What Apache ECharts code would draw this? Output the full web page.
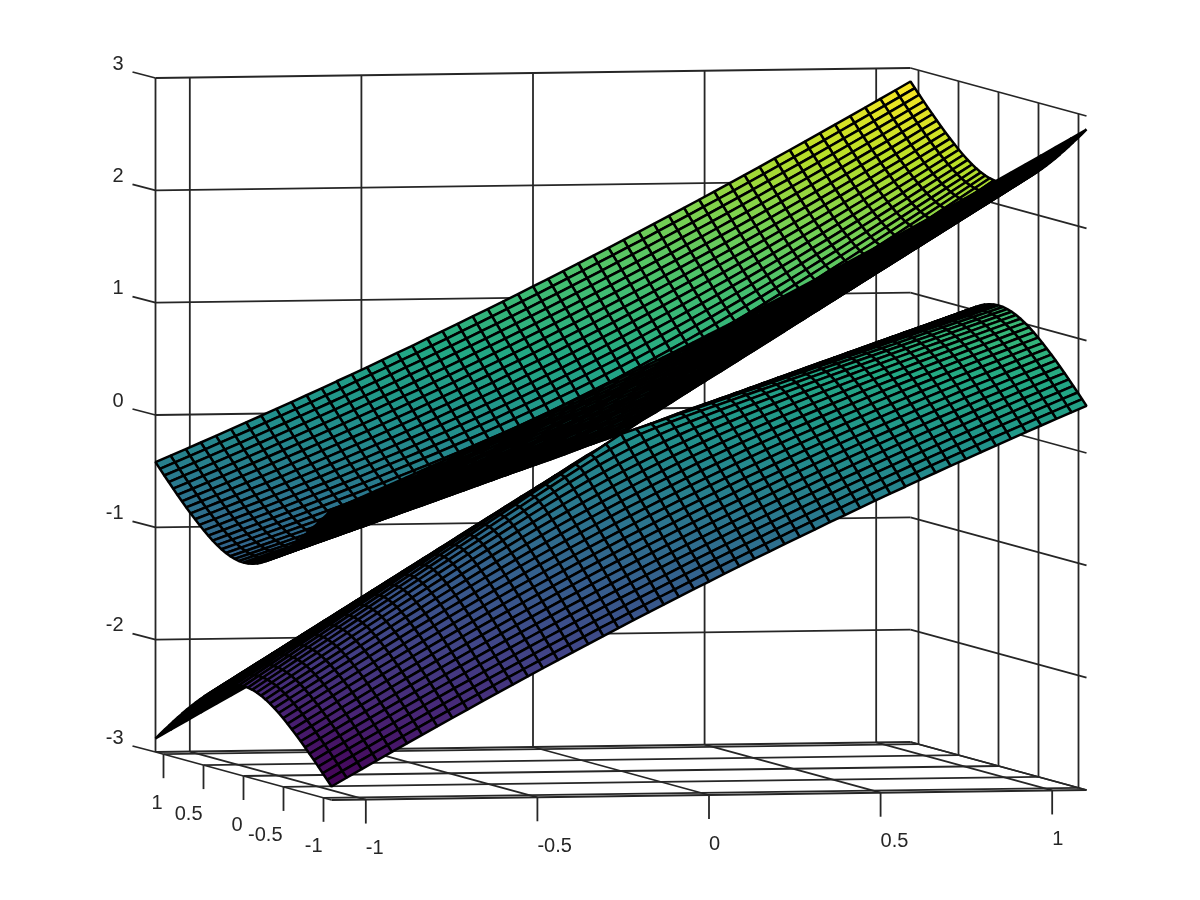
<!DOCTYPE html>
<html lang="en">
<head>
  <meta charset="UTF-8">
  <title>Surface</title>
  <script src="https://cdn.jsdelivr.net/npm/echarts@6/dist/echarts.min.js"></script>
  <style>
    html, body { margin: 0; background: #fff; }
    #main { width: 1200px; height: 900px; }
  </style>
</head>
<body>
<div id="main"></div>
<script>
  // tick labels
  var xTicks = [-1, -0.5, 0, 0.5, 1];
  var yTicks = [1, 0.5, 0, -0.5, -1];
  var zTicks = [-3, -2, -1, 0, 1, 2, 3];

  // mesh samples along x
  var xValues = [-1.1, -1.056, -1.012, -0.968, -0.924, -0.88, -0.836, -0.792, -0.748, -0.704, -0.66, -0.616, -0.572,
    -0.528, -0.484, -0.44, -0.396, -0.352, -0.308, -0.264, -0.22, -0.176, -0.132, -0.088, -0.044, 0,
    0.044, 0.088, 0.132, 0.176, 0.22, 0.264, 0.308, 0.352, 0.396, 0.44, 0.484, 0.528, 0.572, 0.616, 0.66,
    0.704, 0.748, 0.792, 0.836, 0.88, 0.924, 0.968, 1.012, 1.056, 1.1];
  // height of the middle between the two sheets, read along x
  var midHeight = [-1.65, -1.584, -1.518, -1.452, -1.386, -1.32, -1.254, -1.188, -1.122, -1.056, -0.99, -0.924, -0.858,
    -0.792, -0.726, -0.66, -0.594, -0.528, -0.462, -0.396, -0.33, -0.264, -0.198, -0.132, -0.066, 0,
    0.066, 0.132, 0.198, 0.264, 0.33, 0.396, 0.462, 0.528, 0.594, 0.66, 0.726, 0.792, 0.858, 0.924, 0.99,
    1.056, 1.122, 1.188, 1.254, 1.32, 1.386, 1.452, 1.518, 1.584, 1.65];

  // mesh samples along y
  var yValues = [-1.1, -1.045, -0.99, -0.935, -0.88, -0.825, -0.77, -0.715, -0.66, -0.605, -0.55, -0.495, -0.44, -0.385,
    -0.33, -0.275, -0.22, -0.165, -0.11, -0.055, 0, 0.055, 0.11, 0.165, 0.22, 0.275, 0.33, 0.385, 0.44, 0.495,
    0.55, 0.605, 0.66, 0.715, 0.77, 0.825, 0.88, 0.935, 0.99, 1.045, 1.1];

  // half gap between the sheets: one row per |y| step, one column per |x| step (the picture is mirror symmetric)
  var gapY0 = [0, 0.022, 0.044, 0.066, 0.088, 0.11, 0.132, 0.154, 0.176, 0.198, 0.22, 0.242, 0.264, 0.286, 0.308, 0.33, 0.352, 0.374, 0.396, 0.418, 0.44, 0.462, 0.484, 0.506, 0.528, 0.55];
  var gapY1 = [0.055, 0.059, 0.07, 0.086, 0.104, 0.123, 0.143, 0.164, 0.184, 0.205, 0.227, 0.248, 0.27, 0.291, 0.313, 0.335, 0.356, 0.378, 0.4, 0.422, 0.443, 0.465, 0.487, 0.509, 0.531, 0.553];
  var gapY2 = [0.11, 0.112, 0.118, 0.128, 0.141, 0.156, 0.172, 0.189, 0.208, 0.227, 0.246, 0.266, 0.286, 0.306, 0.327, 0.348, 0.369, 0.39, 0.411, 0.432, 0.454, 0.475, 0.496, 0.518, 0.539, 0.561];
  var gapY3 = [0.165, 0.166, 0.171, 0.178, 0.187, 0.198, 0.211, 0.226, 0.241, 0.258, 0.275, 0.293, 0.311, 0.33, 0.349, 0.369, 0.389, 0.409, 0.429, 0.449, 0.47, 0.491, 0.511, 0.532, 0.553, 0.574];
  var gapY4 = [0.22, 0.221, 0.224, 0.23, 0.237, 0.246, 0.257, 0.269, 0.282, 0.296, 0.311, 0.327, 0.344, 0.361, 0.379, 0.397, 0.415, 0.434, 0.453, 0.472, 0.492, 0.512, 0.532, 0.552, 0.572, 0.592];
  var gapY5 = [0.275, 0.276, 0.278, 0.283, 0.289, 0.296, 0.305, 0.315, 0.326, 0.339, 0.352, 0.366, 0.381, 0.397, 0.413, 0.43, 0.447, 0.464, 0.482, 0.5, 0.519, 0.538, 0.557, 0.576, 0.595, 0.615];
  var gapY6 = [0.33, 0.331, 0.333, 0.337, 0.342, 0.348, 0.355, 0.364, 0.374, 0.385, 0.397, 0.409, 0.423, 0.437, 0.451, 0.467, 0.482, 0.499, 0.515, 0.533, 0.55, 0.568, 0.586, 0.604, 0.623, 0.641];
  var gapY7 = [0.385, 0.386, 0.388, 0.391, 0.395, 0.4, 0.407, 0.415, 0.423, 0.433, 0.443, 0.455, 0.467, 0.48, 0.493, 0.507, 0.522, 0.537, 0.552, 0.568, 0.585, 0.601, 0.618, 0.636, 0.653, 0.671];
  var gapY8 = [0.44, 0.441, 0.442, 0.445, 0.449, 0.454, 0.459, 0.466, 0.474, 0.482, 0.492, 0.502, 0.513, 0.525, 0.537, 0.55, 0.563, 0.577, 0.592, 0.607, 0.622, 0.638, 0.654, 0.671, 0.687, 0.704];
  var gapY9 = [0.495, 0.495, 0.497, 0.499, 0.503, 0.507, 0.512, 0.518, 0.525, 0.533, 0.542, 0.551, 0.561, 0.572, 0.583, 0.595, 0.607, 0.62, 0.634, 0.648, 0.662, 0.677, 0.692, 0.708, 0.724, 0.74];
  var gapY10 = [0.55, 0.55, 0.552, 0.554, 0.557, 0.561, 0.566, 0.571, 0.577, 0.585, 0.592, 0.601, 0.61, 0.62, 0.63, 0.641, 0.653, 0.665, 0.678, 0.691, 0.704, 0.718, 0.733, 0.747, 0.762, 0.778];
  var gapY11 = [0.605, 0.605, 0.607, 0.609, 0.611, 0.615, 0.619, 0.624, 0.63, 0.637, 0.644, 0.652, 0.66, 0.669, 0.679, 0.689, 0.7, 0.711, 0.723, 0.735, 0.748, 0.761, 0.775, 0.789, 0.803, 0.818];
  var gapY12 = [0.66, 0.66, 0.661, 0.663, 0.666, 0.669, 0.673, 0.678, 0.683, 0.689, 0.696, 0.703, 0.711, 0.719, 0.728, 0.738, 0.748, 0.759, 0.77, 0.781, 0.793, 0.806, 0.818, 0.832, 0.845, 0.859];
  var gapY13 = [0.715, 0.715, 0.716, 0.718, 0.72, 0.723, 0.727, 0.731, 0.736, 0.742, 0.748, 0.755, 0.762, 0.77, 0.779, 0.787, 0.797, 0.807, 0.817, 0.828, 0.84, 0.851, 0.863, 0.876, 0.889, 0.902];
  var gapY14 = [0.77, 0.77, 0.771, 0.773, 0.775, 0.778, 0.781, 0.785, 0.79, 0.795, 0.801, 0.807, 0.814, 0.821, 0.829, 0.838, 0.847, 0.856, 0.866, 0.876, 0.887, 0.898, 0.909, 0.921, 0.934, 0.946];
  var gapY15 = [0.825, 0.825, 0.826, 0.828, 0.83, 0.832, 0.835, 0.839, 0.844, 0.848, 0.854, 0.86, 0.866, 0.873, 0.881, 0.889, 0.897, 0.906, 0.915, 0.925, 0.935, 0.946, 0.956, 0.968, 0.979, 0.992];
  var gapY16 = [0.88, 0.88, 0.881, 0.882, 0.884, 0.887, 0.89, 0.893, 0.897, 0.902, 0.907, 0.913, 0.919, 0.925, 0.932, 0.94, 0.948, 0.956, 0.965, 0.974, 0.984, 0.994, 1.004, 1.015, 1.026, 1.038];
  var gapY17 = [0.935, 0.935, 0.936, 0.937, 0.939, 0.941, 0.944, 0.948, 0.951, 0.956, 0.961, 0.966, 0.972, 0.978, 0.984, 0.992, 0.999, 1.007, 1.015, 1.024, 1.033, 1.043, 1.053, 1.063, 1.074, 1.085];
  var gapY18 = [0.99, 0.99, 0.991, 0.992, 0.994, 0.996, 0.999, 1.002, 1.006, 1.01, 1.014, 1.019, 1.025, 1.03, 1.037, 1.044, 1.051, 1.058, 1.066, 1.075, 1.083, 1.092, 1.102, 1.112, 1.122, 1.133];
  var gapY19 = [1.045, 1.045, 1.046, 1.047, 1.049, 1.051, 1.053, 1.056, 1.06, 1.064, 1.068, 1.073, 1.078, 1.083, 1.089, 1.096, 1.103, 1.11, 1.118, 1.125, 1.134, 1.143, 1.152, 1.161, 1.171, 1.181];
  var gapY20 = [1.1, 1.1, 1.101, 1.102, 1.104, 1.105, 1.108, 1.111, 1.114, 1.118, 1.122, 1.126, 1.131, 1.137, 1.142, 1.148, 1.155, 1.162, 1.169, 1.177, 1.185, 1.193, 1.202, 1.211, 1.22, 1.23];
  var halfGap = [gapY0, gapY1, gapY2, gapY3, gapY4, gapY5, gapY6, gapY7, gapY8, gapY9, gapY10, gapY11, gapY12, gapY13, gapY14, gapY15, gapY16, gapY17, gapY18, gapY19, gapY20];

  // viridis
  var colorStops = ['#440154', '#482475', '#414487', '#355f8d', '#2a788e', '#21918c', '#22a884', '#44bf70', '#7ad151', '#bddf26', '#fde725'];

  var xMin = -1.1, xMax = 1.1, yMin = -1.1, yMax = 1.1, zMin = -3, zMax = 3;
  var textColor = '#262626';
  var font = '20px "Liberation Sans", Arial, sans-serif';

  // view of the box: data -> page position
  function project(x, y, z) {
    var u = (x - xMin) / (xMax - xMin);
    var v = (yMax - y) / (yMax - yMin);
    var w = (z - zMin) / (zMax - zMin);
    return [155.5 + 755 * u + 176 * v, 752 - 10 * u + 48 * v - 674 * w];
  }
  function depth(x, y, z) {
    var u = (x - xMin) / (xMax - xMin);
    var v = (y - yMin) / (yMax - yMin);
    var w = (z - zMin) / (zMax - zMin);
    return 0.22 * u + 0.97 * v - 0.072 * w;
  }
  function hexToRgb(h) {
    return [parseInt(h.slice(1, 3), 16), parseInt(h.slice(3, 5), 16), parseInt(h.slice(5, 7), 16)];
  }
  function colormap(z) {
    var t = Math.max(0, Math.min(1, (z + 2.88) / 5.76)) * (colorStops.length - 1);
    var i = Math.min(Math.floor(t), colorStops.length - 2);
    var a = hexToRgb(colorStops[i]), b = hexToRgb(colorStops[i + 1]), f = t - i;
    return 'rgb(' + [0, 1, 2].map(function (k) { return Math.round(a[k] + (b[k] - a[k]) * f); }).join(',') + ')';
  }

  // walls, floor and ticks as segments [from, to, optional pixel offset for the end]
  var segments = [];
  function seg(a, b, off) { segments.push([a, b, off || [0, 0]]); }
  xTicks.forEach(function (x) {
    seg([x, yMax, zMin], [x, yMax, zMax]);
    seg([x, yMax, zMin], [x, yMin, zMin]);
    seg([x, yMin, zMin], [x, yMin, zMin], [0, 24]);
  });
  yTicks.forEach(function (y) {
    seg([xMax, y, zMin], [xMax, y, zMax]);
    seg([xMin, y, zMin], [xMax, y, zMin]);
    seg([xMin, y, zMin], [xMin, y, zMin], [0, 24]);
  });
  zTicks.forEach(function (z) {
    seg([xMin, yMax, z], [xMax, yMax, z]);
    seg([xMax, yMax, z], [xMax, yMin, z]);
    seg([xMin, yMax, z], [xMin, yMax, z], [-23, -6]);
  });
  seg([xMin, yMax, zMin], [xMin, yMax, zMax]);
  seg([xMin, yMax, zMin], [xMin, yMin, zMin]);
  seg([xMin, yMin, zMin], [xMax, yMin, zMin]);
  seg([xMax, yMin, zMin], [xMax, yMax, zMin]);

  // tick labels: text, data position, pixel offset, alignment
  var labels = [];
  xTicks.forEach(function (x) { labels.push([String(x), [x, yMin, zMin], [0, 49], 'left']); });
  yTicks.forEach(function (y) { labels.push([String(y), [xMin, y, zMin], [-1, 49], 'right']); });
  zTicks.forEach(function (z) { labels.push([String(z), [xMin, yMax, z], [-32, -14], 'right']); });

  // mesh cells of both sheets, far ones first
  function gapAt(i, j) {
    return halfGap[Math.abs(j - 20)][Math.abs(i - 25)];
  }
  var cells = [];
  [1, -1].forEach(function (sheet) {
    for (var i = 0; i < xValues.length - 1; i++) {
      for (var j = 0; j < yValues.length - 1; j++) {
        var corners = [[i, j], [i + 1, j], [i + 1, j + 1], [i, j + 1]].map(function (c) {
          return [xValues[c[0]], yValues[c[1]], midHeight[c[0]] + sheet * gapAt(c[0], c[1])];
        });
        var mid = corners.reduce(function (s, c) { return [s[0] + c[0] / 4, s[1] + c[1] / 4, s[2] + c[2] / 4]; }, [0, 0, 0]);
        cells.push({ corners: corners, color: colormap(mid[2]), d: depth(mid[0], mid[1], mid[2]) });
      }
    }
  });
  cells.sort(function (a, b) { return b.d - a.d; });

  var myChart = echarts.init(document.getElementById('main'));

  var option = {
    animation: false,
    backgroundColor: '#fff',
    grid: { left: 0, right: 0, top: 0, bottom: 0 },
    xAxis: { type: 'value', min: 0, max: 1200, show: false },
    yAxis: { type: 'value', min: 0, max: 900, inverse: true, show: false },
    series: [
      {
        type: 'custom',
        name: 'box',
        silent: true,
        progressive: 0,
        data: segments.map(function (s, i) { return [i]; }),
        renderItem: function (params, api) {
          var s = segments[api.value(0)];
          var a = project.apply(null, s[0]), b = project.apply(null, s[1]);
          var p0 = api.coord(a), p1 = api.coord([b[0] + s[2][0], b[1] + s[2][1]]);
          return {
            type: 'line',
            shape: { x1: p0[0], y1: p0[1], x2: p1[0], y2: p1[1] },
            style: { stroke: textColor, lineWidth: 1.8 }
          };
        }
      },
      {
        type: 'custom',
        name: 'surface',
        silent: true,
        progressive: 0,
        data: cells.map(function (c, i) { return [i]; }),
        renderItem: function (params, api) {
          var c = cells[api.value(0)];
          return {
            type: 'polygon',
            shape: { points: c.corners.map(function (p) { return api.coord(project.apply(null, p)); }) },
            style: { fill: c.color, stroke: '#000', lineWidth: 2.5, lineJoin: 'bevel' }
          };
        }
      },
      {
        type: 'custom',
        name: 'labels',
        silent: true,
        progressive: 0,
        data: labels.map(function (l, i) { return [i]; }),
        renderItem: function (params, api) {
          var l = labels[api.value(0)];
          var p = project.apply(null, l[1]);
          var c = api.coord([p[0] + l[2][0], p[1] + l[2][1]]);
          return {
            type: 'text',
            x: c[0],
            y: c[1],
            style: { text: l[0], font: font, fill: textColor, align: l[3], verticalAlign: 'middle' }
          };
        }
      }
    ]
  };

  myChart.setOption(option);
</script>
</body>
</html>
